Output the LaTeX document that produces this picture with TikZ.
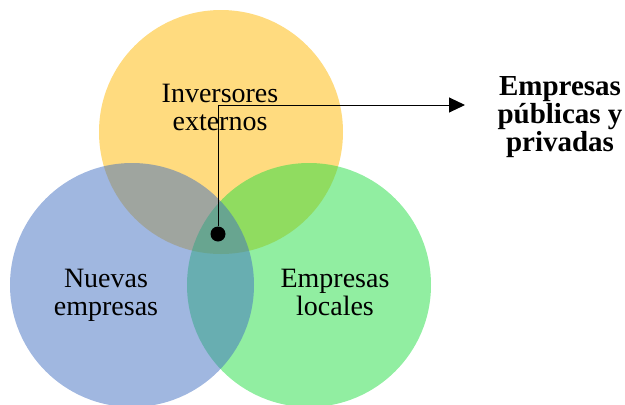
\documentclass[tikz,border=0pt]{standalone}
\usepackage{fontspec}
\setmainfont{Liberation Serif}
\usetikzlibrary{arrows.meta}

\definecolor{gold}{RGB}{255,183,0}
\definecolor{leaf}{RGB}{35,221,67}
\definecolor{sky}{RGB}{65,111,193}

\begin{document}
\begin{tikzpicture}[x=1pt, y=-1pt,
    set/.style={fill opacity=0.5},
    label/.style={align=center, inner sep=0pt, font=\fontsize{28}{28}\selectfont},
    hub/.style={circle, fill=black, inner sep=0pt, minimum size=15pt}]
  \useasboundingbox (0,0) rectangle (625,405);

  % the three sets
  \fill[set, gold] (221,132) circle (122pt);
  \fill[set, leaf] (309,285) circle (122pt);
  \fill[set, sky]  (132,285) circle (122pt);

  \node[label] (inv) at (220,107) {Inversores\\externos};
  \node[label] (nue) at (106,295) {Nuevas\\empresas};
  \node[label] (loc) at (335,292) {Empresas\\locales};

  % intersection and pointer
  \node[hub] (dot) at (218,234) {};
  \coordinate (tip) at (465,105);
  \node[label, font=\fontsize{29}{28}\selectfont\bfseries] (pub) at (560,117) {Empresas\\públicas y\\privadas};

  \draw[line width=1pt, -{Triangle[length=16pt, width=15pt]}] (dot) |- (tip);
\end{tikzpicture}
\end{document}
